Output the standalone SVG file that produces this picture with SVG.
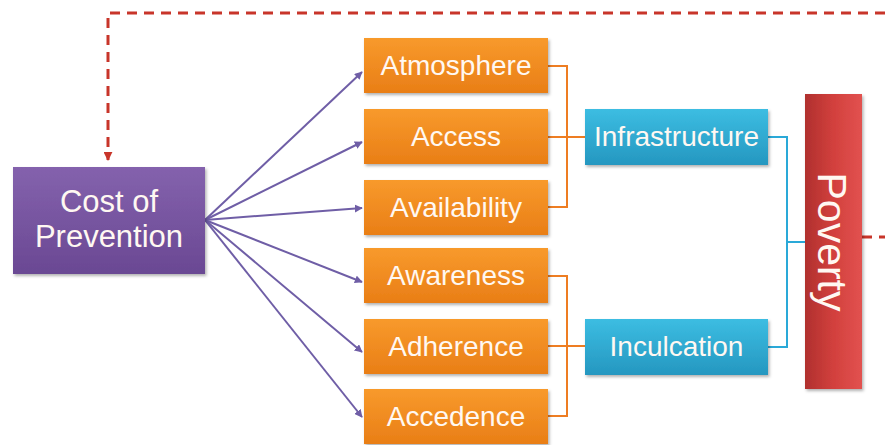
<svg xmlns="http://www.w3.org/2000/svg" width="885" height="445" viewBox="0 0 885 445">
<defs>
<linearGradient id="gPurple" x1="0" y1="0" x2="0" y2="1"><stop offset="0" stop-color="#8462ad"/><stop offset="1" stop-color="#6a4893"/></linearGradient>
<linearGradient id="gOrange" x1="0" y1="0" x2="0" y2="1"><stop offset="0" stop-color="#f89a2c"/><stop offset="1" stop-color="#e97e16"/></linearGradient>
<linearGradient id="gBlue" x1="0" y1="0" x2="0" y2="1"><stop offset="0" stop-color="#3cbde2"/><stop offset="1" stop-color="#2597c0"/></linearGradient>
<linearGradient id="gRed" x1="0" y1="0" x2="1" y2="0"><stop offset="0" stop-color="#b0302e"/><stop offset="0.5" stop-color="#d2403d"/><stop offset="1" stop-color="#e25250"/></linearGradient>
<filter id="sh" x="-10%" y="-10%" width="130%" height="130%"><feDropShadow dx="1.5" dy="2" stdDeviation="1.5" flood-color="#000" flood-opacity="0.3"/></filter>
<marker id="ap" viewBox="0 0 10 10" refX="9" refY="5" markerWidth="4" markerHeight="4" orient="auto"><path d="M0,0 L10,5 L0,10 z" fill="#6f5ea6"/></marker>
<marker id="ar" viewBox="0 0 10 10" refX="9" refY="5" markerWidth="3" markerHeight="3" orient="auto"><path d="M0,0 L10,5 L0,10 z" fill="#c8352a"/></marker>
</defs>
<style>
.t{font-family:"Liberation Sans","Open Sans",sans-serif;fill:#fff8f2;text-anchor:middle}
.s{font-size:28px}
.arr{stroke:#6f5ea6;stroke-width:2;fill:none;marker-end:url(#ap)}
.or{stroke:#ee7d22;stroke-width:2;fill:none}
.bl{stroke:#2aa9d8;stroke-width:2;fill:none}
.da{stroke:#c8352a;stroke-width:3;fill:none;stroke-dasharray:10 7}
</style>
<g id="connectors">
<path class="da" d="M885,13 H108 V160" marker-end="url(#ar)"/>
<path class="da" d="M862,237 H885"/>
<line class="arr" x1="205" y1="220" x2="362" y2="72"/>
<line class="arr" x1="205" y1="220" x2="362" y2="142"/>
<line class="arr" x1="205" y1="220" x2="362" y2="208"/>
<line class="arr" x1="205" y1="220" x2="362" y2="282"/>
<line class="arr" x1="205" y1="220" x2="362" y2="352"/>
<line class="arr" x1="205" y1="220" x2="362" y2="417"/>
<path class="or" d="M548,66 H567 V207 H548 M548,137 H585"/>
<path class="or" d="M548,276 H567 V416 H548 M548,346 H585"/>
<path class="bl" d="M768,137 H787 V347 H768 M787,242 H805"/>
</g>
<g id="cost"><rect x="13" y="167" width="192" height="107" fill="url(#gPurple)" filter="url(#sh)"/><text class="t" x="109" y="212" font-size="31">Cost of</text><text class="t" x="109" y="247" font-size="31">Prevention</text></g>
<g id="atmosphere"><rect x="364" y="38" width="184" height="55" fill="url(#gOrange)" filter="url(#sh)"/><text class="t s" x="456" y="75">Atmosphere</text></g>
<g id="access"><rect x="364" y="109" width="184" height="55" fill="url(#gOrange)" filter="url(#sh)"/><text class="t s" x="456" y="146">Access</text></g>
<g id="availability"><rect x="364" y="180" width="184" height="55" fill="url(#gOrange)" filter="url(#sh)"/><text class="t s" x="456" y="217">Availability</text></g>
<g id="awareness"><rect x="364" y="248" width="184" height="55" fill="url(#gOrange)" filter="url(#sh)"/><text class="t s" x="456" y="285">Awareness</text></g>
<g id="adherence"><rect x="364" y="319" width="184" height="55" fill="url(#gOrange)" filter="url(#sh)"/><text class="t s" x="456" y="356">Adherence</text></g>
<g id="accedence"><rect x="364" y="389" width="184" height="55" fill="url(#gOrange)" filter="url(#sh)"/><text class="t s" x="456" y="426">Accedence</text></g>
<g id="infrastructure"><rect x="585" y="109" width="183" height="56" fill="url(#gBlue)" filter="url(#sh)"/><text class="t s" x="676.5" y="146">Infrastructure</text></g>
<g id="inculcation"><rect x="585" y="319" width="183" height="56" fill="url(#gBlue)" filter="url(#sh)"/><text class="t s" x="676.5" y="356">Inculcation</text></g>
<g id="poverty"><rect x="805" y="94" width="57" height="295" fill="url(#gRed)" filter="url(#sh)"/><text class="t" font-size="41" transform="translate(818,242) rotate(90)">Poverty</text></g>
</svg>
